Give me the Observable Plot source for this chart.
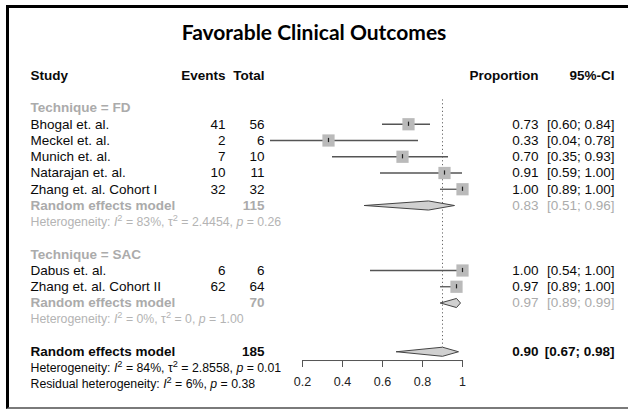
<!DOCTYPE html>
<html>
<head>
<meta charset="utf-8">
<script src="https://cdn.jsdelivr.net/npm/d3@7"></script>
<script src="https://cdn.jsdelivr.net/npm/@observablehq/plot@0.6"></script>
<style>
  html, body { margin: 0; padding: 0; background: #fff; width: 628px; height: 410px; overflow: hidden; }
  #box { position: absolute; left: 6px; top: 5px; width: 700px; height: 399px;
         border-top: 3px solid #000; border-left: 3px solid #000; border-bottom: 2px solid #7a7a7a; }
  #title { position: absolute; left: 0; top: 0; width: 620px; padding-left: 8px; height: 56px;
           text-align: center; font-family: Lato, "Open Sans", sans-serif; font-weight: bold;
           font-size: 21px; line-height: 24px; box-sizing: border-box; }
  #title span { display: block; padding-top: 20px; }
  #chart { position: absolute; left: 0; top: 56px; }
</style>
</head>
<body>
<div id="box"></div>
<div id="title"><span>Favorable Clinical Outcomes</span></div>
<div id="chart"></div>
<script>
// ---------- data ----------
const studies = ["Bhogal et. al.", "Meckel et. al.", "Munich et. al.", "Natarajan et. al.",
                 "Zhang et. al. Cohort I", "Dabus et. al.", "Zhang et. al. Cohort II"];
const events = [41, 2, 7, 10, 32, 6, 62];
const totals = [56, 6, 10, 11, 32, 6, 64];
const proportions = [0.73, 0.33, 0.70, 0.91, 1.00, 1.00, 0.97];
const lowers = [0.60, 0.04, 0.35, 0.59, 0.89, 0.54, 0.89];
const uppers = [0.84, 0.78, 0.93, 1.00, 1.00, 1.00, 1.00];
const studyRows = [3, 4, 5, 6, 7, 12, 13];

const groupLabels = ["Technique = FD", "Technique = SAC"];
const groupRows = [2, 11];

const summaryLabels = ["Random effects model", "Random effects model", "Random effects model"];
const summaryTotals = [115, 70, 185];
const summaryEst = [0.83, 0.97, 0.90];
const summaryLow = [0.51, 0.89, 0.67];
const summaryUp = [0.96, 0.99, 0.98];
const summaryRows = [8, 14, 17];
const summaryIsOverall = [false, false, true];

const hetTexts = ["Heterogeneity: I² = 83%, τ² = 2.4454, p = 0.26",
                  "Heterogeneity: I² = 0%, τ² = 0, p = 1.00",
                  "Heterogeneity: I² = 84%, τ² = 2.8558, p = 0.01",
                  "Residual heterogeneity: I² = 6%, p = 0.38"];
const hetRows = [9, 15, 18, 19];
const hetIsOverall = [false, false, true, true];

const headers = ["Study", "Events", "Total", "Proportion", "95%-CI"];
const xTicks = [0.2, 0.4, 0.6, 0.8, 1];
const xTickLabels = ["0.2", "0.4", "0.6", "0.8", "1"];

// ---------- tables ----------
const f2 = d3.format(".2f");
const studyTable = studies.map((s, i) => ({
  study: s, events: events[i], total: totals[i], p: proportions[i],
  lo: lowers[i], up: uppers[i], row: studyRows[i],
  ci: `[${f2(lowers[i])}; ${f2(uppers[i])}]`
}));
const groupTable = groupLabels.map((g, i) => ({label: g, row: groupRows[i]}));
const summaryTable = summaryLabels.map((s, i) => ({
  label: s, total: summaryTotals[i], est: summaryEst[i], lo: summaryLow[i], up: summaryUp[i],
  row: summaryRows[i], overall: summaryIsOverall[i],
  ci: `[${f2(summaryLow[i])}; ${f2(summaryUp[i])}]`
}));
const hetTable = hetTexts.map((t, i) => ({text: t, row: hetRows[i], overall: hetIsOverall[i]}));
const subSummary = summaryTable.filter(d => !d.overall);
const overallSummary = summaryTable.filter(d => d.overall);

const dh = 0.28; // diamond half height in rows
const diamondPts = summaryTable.flatMap((d, i) => [
  {id: i, x: d.lo, y: d.row}, {id: i, x: d.est, y: d.row - dh},
  {id: i, x: d.up, y: d.row}, {id: i, x: d.est, y: d.row + dh},
  {id: i, x: d.lo, y: d.row}
]);

const grayBold = "#ababab";
const grayHet = "#b4b4b4";
const ink = "#0a0a0a";
const overallEst = summaryEst[2];
const axisRow = 17.54;
const fs = 13.5;

const plot = Plot.plot({
  width: 628, height: 354,
  marginLeft: 0, marginRight: 0, marginTop: 0, marginBottom: 50,
  style: {fontFamily: "'Liberation Sans', Arial, sans-serif", fontSize: fs + "px", background: "transparent"},
  x: {domain: [0, 1], range: [262, 462]},
  y: {domain: [0, 19], range: [19, 327.75], axis: null},
  marks: [
    Plot.ruleX([overallEst], {y1: 1.5, y2: 17 - dh, stroke: "#666", strokeWidth: 1, strokeDasharray: "1.2,2.6"}),
    Plot.ruleY(studyTable, {x1: "lo", x2: "up", y: "row", stroke: "#555", strokeWidth: 1.3}),
    Plot.dot(studyTable, {x: "p", y: "row", symbol: "square", r: 6.9, fill: "#bababa", stroke: "none"}),
    Plot.ruleX(studyTable, {x: "p", y1: d => d.row - 0.13, y2: d => d.row + 0.13, stroke: "#222", strokeWidth: 1.2}),
    Plot.line(diamondPts, {x: "x", y: "y", z: "id", fill: "#d0d0d0", stroke: "#444", strokeWidth: 1}),
    Plot.ruleY([axisRow], {x1: xTicks[0], x2: xTicks[xTicks.length - 1], stroke: "#555", strokeWidth: 1}),
    Plot.axisX({ticks: xTicks, tickFormat: (d) => xTickLabels[xTicks.indexOf(d)], tickSize: 7, tickPadding: 10,
                fontSize: 12.5, label: null, stroke: "#555", fill: "#222"}),
    // headers
    Plot.text([headers[0]], {text: d => d, y: () => 0, frameAnchor: "left", dx: 30, textAnchor: "start", fontWeight: "bold", fill: ink}),
    Plot.text([headers[1]], {text: d => d, y: () => 0, frameAnchor: "left", dx: 225, textAnchor: "end", fontWeight: "bold", fill: ink}),
    Plot.text([headers[2]], {text: d => d, y: () => 0, frameAnchor: "left", dx: 264, textAnchor: "end", fontWeight: "bold", fill: ink}),
    Plot.text([headers[3]], {text: d => d, y: () => 0, frameAnchor: "left", dx: 538, textAnchor: "end", fontWeight: "bold", fill: ink}),
    Plot.text([headers[4]], {text: d => d, y: () => 0, frameAnchor: "left", dx: 614, textAnchor: "end", fontWeight: "bold", fill: ink}),
    // group labels
    Plot.text(groupTable, {text: "label", y: "row", frameAnchor: "left", dx: 30, textAnchor: "start", fontWeight: "bold", fill: grayBold}),
    // study rows
    Plot.text(studyTable, {text: "study", y: "row", frameAnchor: "left", dx: 30, textAnchor: "start", fill: ink}),
    Plot.text(studyTable, {text: "events", y: "row", frameAnchor: "left", dx: 225, textAnchor: "end", fill: ink}),
    Plot.text(studyTable, {text: "total", y: "row", frameAnchor: "left", dx: 264, textAnchor: "end", fill: ink}),
    Plot.text(studyTable, {text: d => f2(d.p), y: "row", frameAnchor: "left", dx: 538, textAnchor: "end", fill: ink}),
    Plot.text(studyTable, {text: "ci", y: "row", frameAnchor: "left", dx: 614, textAnchor: "end", fill: ink}),
    // subgroup summaries
    Plot.text(subSummary, {text: "label", y: "row", frameAnchor: "left", dx: 30, textAnchor: "start", fontWeight: "bold", fill: grayBold}),
    Plot.text(subSummary, {text: "total", y: "row", frameAnchor: "left", dx: 264, textAnchor: "end", fontWeight: "bold", fill: grayBold}),
    Plot.text(subSummary, {text: d => f2(d.est), y: "row", frameAnchor: "left", dx: 538, textAnchor: "end", fill: grayBold}),
    Plot.text(subSummary, {text: "ci", y: "row", frameAnchor: "left", dx: 614, textAnchor: "end", fill: grayBold}),
    // overall summary
    Plot.text(overallSummary, {text: "label", y: "row", frameAnchor: "left", dx: 30, textAnchor: "start", fontWeight: "bold", fill: ink}),
    Plot.text(overallSummary, {text: "total", y: "row", frameAnchor: "left", dx: 264, textAnchor: "end", fontWeight: "bold", fill: ink}),
    Plot.text(overallSummary, {text: d => f2(d.est), y: "row", frameAnchor: "left", dx: 538, textAnchor: "end", fontWeight: "bold", fill: ink}),
    Plot.text(overallSummary, {text: "ci", y: "row", frameAnchor: "left", dx: 614, textAnchor: "end", fontWeight: "bold", fill: ink}),
    // heterogeneity
    Plot.text(hetTable, {text: "text", y: "row", frameAnchor: "left", dx: 30, textAnchor: "start", fontSize: 12.3,
                         fill: d => d.overall ? ink : grayHet})
  ]
});
document.getElementById("chart").appendChild(plot);

// italic I / p and superscript 2 in heterogeneity lines
const hetSet = new Set(hetTexts);
d3.select(plot).selectAll("text").each(function() {
  const t = this.textContent;
  if (!hetSet.has(t)) return;
  const el = d3.select(this);
  el.text(null);
  const re = /(I²|τ²|\bp(?= =))/g;
  let last = 0, m;
  const add = (s, opts = {}) => {
    const ts = el.append("tspan").text(s);
    if (opts.italic) ts.attr("font-style", "italic");
    if (opts.sup) ts.attr("baseline-shift", "super").attr("font-size", "75%");
  };
  while ((m = re.exec(t)) !== null) {
    if (m.index > last) add(t.slice(last, m.index));
    if (m[0] === "I²") { add("I", {italic: true}); add("2", {sup: true}); }
    else if (m[0] === "τ²") { add("τ"); add("2", {sup: true}); }
    else add("p", {italic: true});
    last = m.index + m[0].length;
  }
  if (last < t.length) add(t.slice(last));
});
</script>
</body>
</html>
